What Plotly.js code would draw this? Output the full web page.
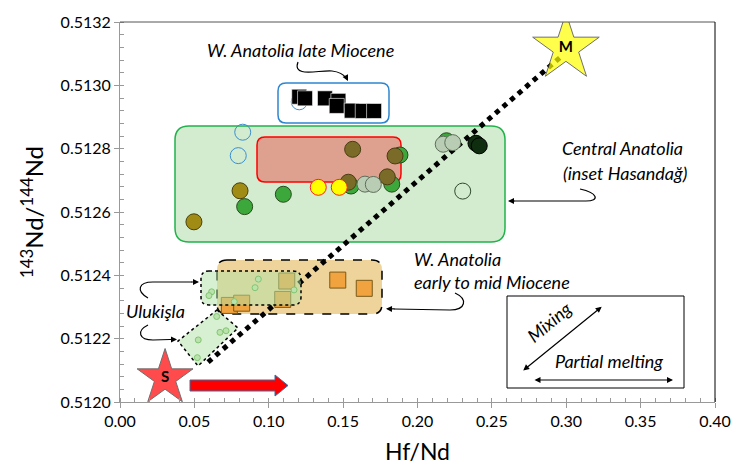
<!DOCTYPE html>
<html><head><meta charset="utf-8">
<script src="https://cdn.plot.ly/plotly-3.0.1.min.js"></script>
<style>html,body{margin:0;padding:0;background:#fff}#chart{width:734px;height:466px}</style>
</head><body><div id="chart"></div>
<script>
// ---------------- data ----------------
// Central Anatolia
const caGreenX = [0.0838, 0.1098, 0.1553, 0.1827, 0.1882, 0.2195];
const caGreenY = [0.512617, 0.512656, 0.512682, 0.512688, 0.512780, 0.512825];
const caDarkX = [0.2393, 0.2415];
const caDarkY = [0.512817, 0.512809];
const caOliveX = [0.0497, 0.0807];
const caOliveY = [0.512569, 0.512667];
const caBrownX = [0.1564, 0.1535, 0.1797, 0.1849];
const caBrownY = [0.512798, 0.512694, 0.512711, 0.512777];
const caGrayX = [0.1647, 0.1703, 0.2173, 0.2237];
const caGrayY = [0.512688, 0.512687, 0.512814, 0.512819];
const caOpenX = [0.2304];
const caOpenY = [0.512666];
const blueOpenX = [0.0825, 0.0795, 0.1205];
const blueOpenY = [0.512852, 0.512778, 0.512948];
// Hasandağ inset
const hasX = [0.1333, 0.1474];
const hasY = [0.512678, 0.512678];
// W. Anatolia late Miocene
const waLateX = [0.1205, 0.1244, 0.1378, 0.1468, 0.1457, 0.1558, 0.1632, 0.1708];
const waLateY = [0.512964, 0.512959, 0.512959, 0.512951, 0.512935, 0.512920, 0.512919, 0.512919];
// W. Anatolia early to mid Miocene
const waEarlyX = [0.1121, 0.1464, 0.1642, 0.0735, 0.0818, 0.1094];
const waEarlyY = [0.512382, 0.512385, 0.512359, 0.512305, 0.512312, 0.512324];
// Ulukişla
const ulukX = [0.0930, 0.0908, 0.0616, 0.0598, 0.0768, 0.1170, 0.0650, 0.0713, 0.0672, 0.0526, 0.0520];
const ulukY = [0.512388, 0.512361, 0.512348, 0.512336, 0.512317, 0.512354, 0.512270, 0.512225, 0.512220, 0.512196, 0.512140];
// mixing line and end-members
const mixX = [0.0592, 0.2978];
const mixY = [0.512126, 0.513096];
const starX = [0.0303, 0.2998];
const starY = [0.512076, 0.513118];
const starLabels = ['S', 'M'];
// axis ticks
const xTicks = [0, 0.05, 0.10, 0.15, 0.20, 0.25, 0.30, 0.35, 0.40];
const yTicks = [0.5120, 0.5122, 0.5124, 0.5126, 0.5128, 0.5130, 0.5132];

// ---------------- helpers (pixel -> axis coords for decorations) ----------------
const L = 120, T = 22, W = 595, H = 380;
const X = px => (px - L) / W * 0.4;
const Y = py => 0.5132 - (py - T) / H * 0.0012;
function rr(x0, y0, x1, y1, r) {
  return `M${X(x0 + r)},${Y(y0)} L${X(x1 - r)},${Y(y0)} Q${X(x1)},${Y(y0)} ${X(x1)},${Y(y0 + r)} ` +
    `L${X(x1)},${Y(y1 - r)} Q${X(x1)},${Y(y1)} ${X(x1 - r)},${Y(y1)} L${X(x0 + r)},${Y(y1)} ` +
    `Q${X(x0)},${Y(y1)} ${X(x0)},${Y(y1 - r)} L${X(x0)},${Y(y0 + r)} Q${X(x0)},${Y(y0)} ${X(x0 + r)},${Y(y0)} Z`;
}
function pp(str) { // convert a pixel path to axis path
  return str.replace(/(-?[\d.]+),(-?[\d.]+)/g, (m, a, b) => X(+a) + ',' + Y(+b));
}

function circ(x, y, fill, line, size) {
  return {x, y, type: 'scatter', mode: 'markers', hoverinfo: 'skip',
    marker: {symbol: 'circle', size: size || 16, color: fill, line: {color: line, width: 1}}};
}

const traces = [
  {x: mixX, y: mixY, type: 'scatter', mode: 'lines', line: {color: '#000', width: 5, dash: 'dot'}, hoverinfo: 'skip'},
  circ(caGreenX, caGreenY, '#3ca83c', '#2a4a1e', 16),
  circ(caDarkX, caDarkY, '#0f2d0f', '#000', 16),
  circ(caOliveX, caOliveY, '#a08c14', '#4a400a', 16),
  circ(caBrownX, caBrownY, '#7a6c28', '#4a3c12', 16),
  circ(caGrayX, caGrayY, '#b9cdb4', '#5e6e5a', 16),
  circ(caOpenX, caOpenY, 'rgba(0,0,0,0)', '#2d4a2a', 16),
  circ(blueOpenX, blueOpenY, 'rgba(0,0,0,0)', '#3a8fd0', 16),
  {x: waLateX, y: waLateY, type: 'scatter', mode: 'markers', hoverinfo: 'skip',
    marker: {symbol: 'square', size: 15, color: '#000', line: {color: '#fff', width: 0.6}}},
  {x: waEarlyX, y: waEarlyY, type: 'scatter', mode: 'markers', hoverinfo: 'skip',
    marker: {symbol: 'square', size: 16, color: '#f0a33e', line: {color: '#7a5a18', width: 1}}},
  circ(ulukX, ulukY, '#c4e3b4', '#55a83c', 6),
  circ(hasX, hasY, '#ffff00', '#ff2020', 16),
  {x: starX, y: starY, type: 'scatter', mode: 'markers+text', text: starLabels, hoverinfo: 'skip',
    textposition: 'middle center', textfont: {family: 'Lato, sans-serif', size: 15, color: '#000', weight: 'bold'},
    marker: {symbol: 'star', size: [42, 50], color: ['#ff0000', '#ffff00'], line: {color: '#333', width: 1}}}
];

const shapes = [
  {type: 'path', path: rr(175, 126, 505, 242, 14), fillcolor: '#d3ebcf', line: {color: '#21b24b', width: 1.5}, layer: 'below'},
  {type: 'path', path: rr(257, 137, 401, 182, 8), fillcolor: '#dfa18f', line: {color: '#ff0000', width: 1.5}, layer: 'below'},
  {type: 'path', path: rr(278, 83, 389, 123, 8), fillcolor: '#ffffff', line: {color: '#2e86d0', width: 1.5}, layer: 'below'},
  {type: 'path', path: rr(217, 260, 382, 314, 10), fillcolor: '#eed49b', line: {color: '#000', width: 1.5, dash: 'dash'}, layer: 'below'},
  {type: 'path', path: rr(201, 271, 301, 305, 8), fillcolor: 'rgba(175,225,165,0.5)', line: {color: '#000', width: 1.5, dash: 'dot'}, layer: 'above'},
  {type: 'path', path: pp('M217,310 L238,328 L198,366 L178,341 Z'), fillcolor: 'rgba(175,225,165,0.5)', line: {color: '#000', width: 1.5, dash: 'dot'}, layer: 'above'},
  // inset legend box
  {type: 'path', path: pp('M507,296 L684,296 L684,388 L507,388 Z'), fillcolor: '#fff', line: {color: '#000', width: 1}, layer: 'below'},
  // red block arrow
  {type: 'path', path: pp('M190,380 L275,380 L275,375 L288,385.5 L275,396 L275,391 L190,391 Z'), fillcolor: '#ff0000', line: {color: '#3a6ea5', width: 1}, layer: 'above'},
  // curved callout lines
  {type: 'path', path: pp('M298,62 C292,78 318,70 332,71 C341,72 344,75 346,78'), line: {color: '#000', width: 1.2}},
  {type: 'path', path: pp('M580,189 C598,193 600,201 586,201 L514,201'), line: {color: '#000', width: 1.2}},
  {type: 'path', path: pp('M455,293 C468,299 466,310 450,310 L394,309'), line: {color: '#000', width: 1.2}},
  {type: 'path', path: pp('M148,298 C136,291 138,282 153,282 L192,282'), line: {color: '#000', width: 1.2}},
  {type: 'path', path: pp('M148,325 C136,331 139,340 153,340 L170,339.5'), line: {color: '#000', width: 1.2}},
  // plot frame top and right
  {type: 'line', xref: 'paper', yref: 'paper', x0: 0, x1: 1, y0: 1, y1: 1, line: {color: '#555', width: 1}},
  {type: 'line', xref: 'paper', yref: 'paper', x0: 1, x1: 1, y0: 0, y1: 1, line: {color: '#000', width: 1}}
];

function arrowAnn(tipPx, tipPy, tailPx, tailPy, side) {
  return {x: X(tipPx), y: Y(tipPy), ax: tailPx - tipPx, ay: tailPy - tipPy, axref: 'pixel', ayref: 'pixel',
    text: '', showarrow: true, arrowhead: 2, arrowsize: 1, arrowwidth: 1.2, arrowcolor: '#000', arrowside: side || 'end'};
}
function txt(px, py, text, opts) {
  return Object.assign({x: X(px), y: Y(py), text, showarrow: false, xanchor: 'center', yanchor: 'middle',
    font: {family: 'Lato, sans-serif', size: 18, color: '#000', style: 'italic'}}, opts || {});
}

const annotations = [
  txt(300, 50, 'W. Anatolia late Miocene'),
  txt(622, 148, 'Central Anatolia'),
  txt(625, 173, '(inset Hasandağ)'),
  txt(412, 259, 'W. Anatolia', {xanchor: 'left'}),
  txt(412, 282, 'early to mid Miocene', {xanchor: 'left'}),
  txt(155, 311, 'Ulukişla'),
  txt(549, 322, 'Mixing', {textangle: -40}),
  txt(609, 361, 'Partial melting'),
  arrowAnn(348, 81, 345, 75),
  arrowAnn(508, 201, 516, 201),
  arrowAnn(386, 308.7, 396, 309),
  arrowAnn(199, 282, 190, 282),
  arrowAnn(177, 339.4, 168, 339.5),
  arrowAnn(601.7, 306.7, 521.7, 371.7, 'end+start'),
  arrowAnn(673, 380, 533, 380, 'end+start')
];

const axisCommon = {showgrid: false, zeroline: false, showline: true, linecolor: '#999', linewidth: 1,
  ticks: 'outside', ticklen: 5, tickcolor: '#999', tickfont: {size: 16, color: '#000'}};

const layout = {
  width: 734, height: 466,
  margin: {l: L, r: 734 - L - W, t: T, b: 466 - T - H},
  paper_bgcolor: '#fff', plot_bgcolor: '#fff', showlegend: false,
  font: {family: 'Lato, sans-serif', color: '#000'},
  xaxis: Object.assign({}, axisCommon, {range: [0, 0.4], tickvals: xTicks, ticktext: xTicks.map(v => v.toFixed(2)),
    minor: {dtick: 0.01, ticks: 'inside', ticklen: 4, tickcolor: '#999'},
    title: {text: 'Hf/Nd', font: {size: 23}, standoff: 14}}),
  yaxis: Object.assign({}, axisCommon, {range: [0.5120, 0.5132], tickvals: yTicks, ticktext: yTicks.map(v => v.toFixed(4)),
    minor: {dtick: 0.00004, ticks: 'inside', ticklen: 4, tickcolor: '#999'},
    title: {text: '<sup>143</sup>Nd/<sup>144</sup>Nd', font: {size: 24}, standoff: 10}}),
  shapes, annotations
};

Plotly.newPlot('chart', traces, layout, {staticPlot: true, displayModeBar: false});
</script></body></html>
